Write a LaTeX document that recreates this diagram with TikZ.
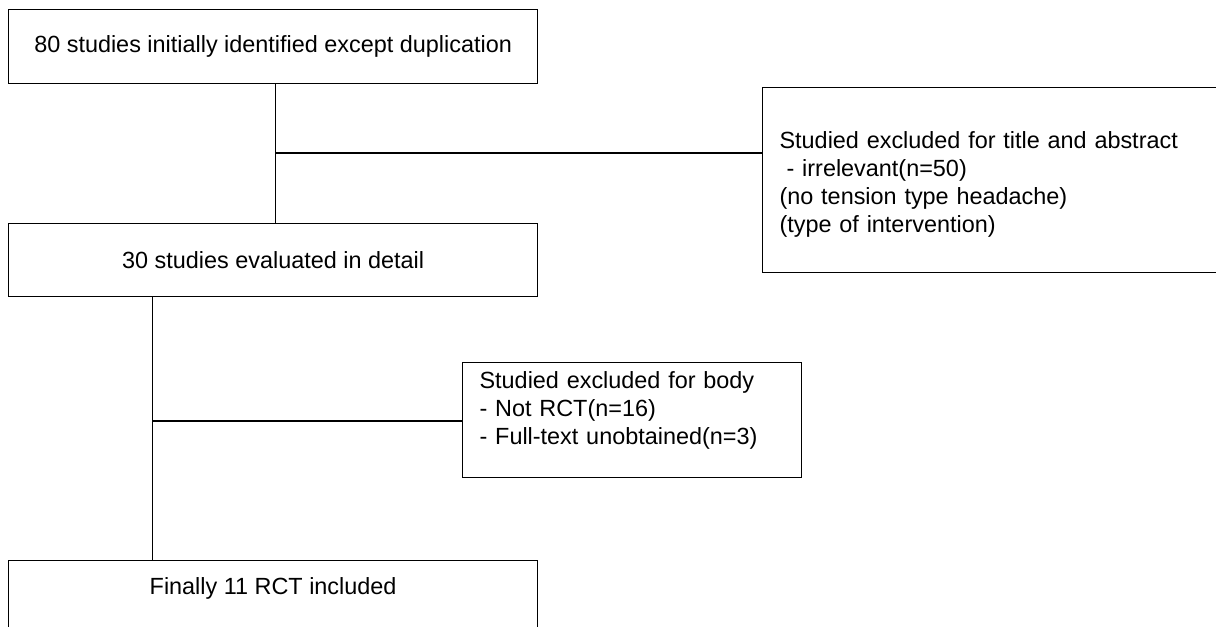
\documentclass[tikz,border=0pt]{standalone}
\usepackage{fontspec}
\setmainfont{Liberation Sans}
\begin{document}
\begin{tikzpicture}[x=1bp,y=-1bp,
  every node/.style={font=\fontsize{23.5}{28}\selectfont},
  box/.style={draw=black, line width=1.2bp, rectangle, inner sep=0pt, anchor=north west},
  wide/.style={box, minimum width=529bp, minimum height=74bp},
  notebox/.style={box, inner xsep=17bp, align=left},
  link/.style={draw=black, line width=1.2bp}]
\useasboundingbox (0,0) rectangle (1216,627);
\node[wide] (b1) at (8,9) {80 studies initially identified except duplication};
\node[wide, minimum height=73bp] (b2) at (8,223) {30 studies evaluated in detail};
\node[box, minimum width=529bp, text height=34bp, text depth=60bp] (b4) at (8,560) {Finally 11 RCT included};
\node[notebox, text width=429bp, text height=61bp, text depth=124bp] (e1) at (762,87)
  {Studied excluded for title and abstract\\
   \hspace*{0.3em}- irrelevant(n=50)\\
   (no tension type headache)\\
   (type of intervention)};
\node[notebox, text width=305bp, text height=26bp, text depth=89bp] (e2) at (462,362)
  {Studied excluded for body\\
   - Not RCT(n=16)\\
   - Full-text unobtained(n=3)};
\coordinate (j1) at (275,153);
\coordinate (j2) at (152,421);
\draw[link] ([xshift=2.5bp]b1.south) -- ([xshift=2.5bp]b2.north);
\draw[link] (j1) -- (j1 -| e1.west);
\draw[link] ([xshift=-120.5bp]b2.south) -- ([xshift=-120.5bp]b4.north);
\draw[link] (j2) -- (j2 -| e2.west);
\end{tikzpicture}
\end{document}
